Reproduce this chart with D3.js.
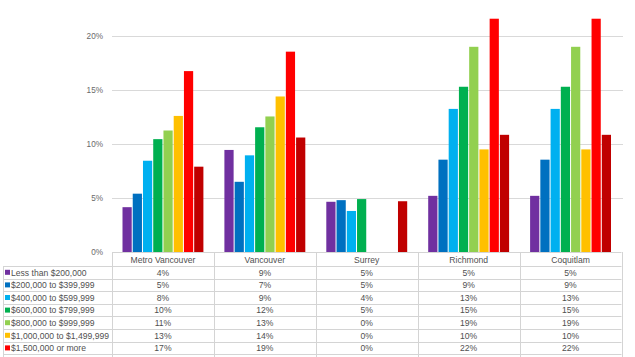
<!DOCTYPE html>
<html><head><meta charset="utf-8">
<script src="https://cdn.jsdelivr.net/npm/d3@7"></script>
<style>body{margin:0;background:#fff;}svg{display:block;font-family:"Liberation Sans",Arial,sans-serif;}</style>
</head><body><svg id="c" width="635" height="357"></svg>
<script>
const categories = ["Metro Vancouver","Vancouver","Surrey","Richmond","Coquitlam"];
const seriesNames = ["Less than $200,000","$200,000 to $399,999","$400,000 to $599,999","$600,000 to $799,999","$800,000 to $999,999","$1,000,000 to $1,499,999","$1,500,000 or more","Total"];
const seriesColors = ["#7030a0","#0070c0","#00b0f0","#00b050","#92d050","#ffc000","#ff0000","#c00000"];
// bar heights (percent) per series, one value per category
const barValues = [
  [4.15, 9.45, 4.65, 5.2, 5.2],
  [5.4, 6.5, 4.8, 8.55, 8.55],
  [8.45, 8.95, 3.8, 13.25, 13.25],
  [10.45, 11.55, 4.9, 15.3, 15.3],
  [11.25, 12.55, 0, 19.0, 19.0],
  [12.6, 14.4, 0, 9.5, 9.5],
  [16.75, 18.55, 0, 21.6, 21.6],
  [7.9, 10.6, 4.7, 10.85, 10.85]
];
// table labels as shown
const tableLabels = [
  ["4%","9%","5%","5%","5%"],
  ["5%","7%","5%","9%","9%"],
  ["8%","9%","4%","13%","13%"],
  ["10%","12%","5%","15%","15%"],
  ["11%","13%","0%","19%","19%"],
  ["13%","14%","0%","10%","10%"],
  ["17%","19%","0%","22%","22%"]
];
const yTicks = [0,5,10,15,20];

const svg = d3.select("#c");
const x0 = d3.scaleBand().domain(categories).range([112, 621.5]).padding(0);
const x1 = d3.scaleBand().domain(d3.range(seriesNames.length)).range([10.5, x0.bandwidth()-10.5]).paddingInner(0.1).paddingOuter(0);
const y = d3.scaleLinear().domain([0,20]).range([252,36]);
const txtCol = "#505050", fs = "8.6px";

// gridlines
svg.append("g").selectAll("line").data(yTicks.filter(d=>d>0)).join("line")
  .attr("x1",112).attr("x2",623).attr("y1",d=>y(d)+0.5).attr("y2",d=>y(d)+0.5)
  .attr("stroke","#d9d9d9").attr("stroke-width",1);

// y axis labels
const yAxis = d3.axisLeft(y).tickValues(yTicks).tickFormat(d=>d+"%").tickSize(0).tickPadding(0);
const ga = svg.append("g").attr("transform","translate(103,0)").call(yAxis);
ga.select(".domain").remove();
ga.selectAll("text").attr("fill","#6a6a6a").attr("font-size","8.2px").attr("font-family","Liberation Sans, Arial, sans-serif");

// bars
const groups = svg.append("g").selectAll("g").data(categories).join("g")
  .attr("transform",d=>`translate(${x0(d)},0)`);
groups.selectAll("rect").data((c,ci)=>seriesNames.map((s,si)=>({si,v:barValues[si][ci]}))).join("rect")
  .attr("x",d=>x1(d.si)).attr("width",x1.bandwidth())
  .attr("y",d=>y(d.v)).attr("height",d=>y(0)-y(d.v))
  .attr("fill",d=>seriesColors[d.si]);

// table
const tbl = svg.append("g");
const rowTop = 266, rowH = 12.6;
const lineCol = "#d4d4d4";
tbl.append("line").attr("x1",112).attr("x2",621.5).attr("y1",252.5).attr("y2",252.5).attr("stroke",lineCol);
const nRows = tableLabels.length;
d3.range(nRows+1).forEach(i=>{
  const yy = Math.round(rowTop+i*rowH)+0.5;
  tbl.append("line").attr("x1",3).attr("x2",621.5).attr("y1",yy).attr("y2",yy).attr("stroke",lineCol);
});
const colEdges = categories.map(c=>x0(c)).concat([x0.range()[1]]);
colEdges.forEach(xx=>{
  tbl.append("line").attr("x1",Math.round(xx)+0.5).attr("x2",Math.round(xx)+0.5).attr("y1",252).attr("y2",357).attr("stroke",lineCol);
});
tbl.append("line").attr("x1",3.5).attr("x2",3.5).attr("y1",rowTop).attr("y2",357).attr("stroke",lineCol);

// header
tbl.selectAll("text.h").data(categories).join("text").attr("class","h")
  .attr("x",d=>x0(d)+x0.bandwidth()/2).attr("y",262.5).attr("text-anchor","middle")
  .attr("font-size",fs).attr("fill",txtCol).text(d=>d);

// rows
tableLabels.forEach((row,ri)=>{
  const cy = rowTop + ri*rowH + rowH/2;
  tbl.append("rect").attr("x",5).attr("y",cy-2.5).attr("width",5).attr("height",5).attr("fill",seriesColors[ri]);
  tbl.append("text").attr("x",11).attr("y",cy+3.2).attr("font-size",fs).attr("fill",txtCol).text(seriesNames[ri]);
  row.forEach((v,ci)=>{
    tbl.append("text").attr("x",x0(categories[ci])+x0.bandwidth()/2).attr("y",cy+3.2)
      .attr("text-anchor","middle").attr("font-size",fs).attr("fill",txtCol).text(v);
  });
});
</script></body></html>
